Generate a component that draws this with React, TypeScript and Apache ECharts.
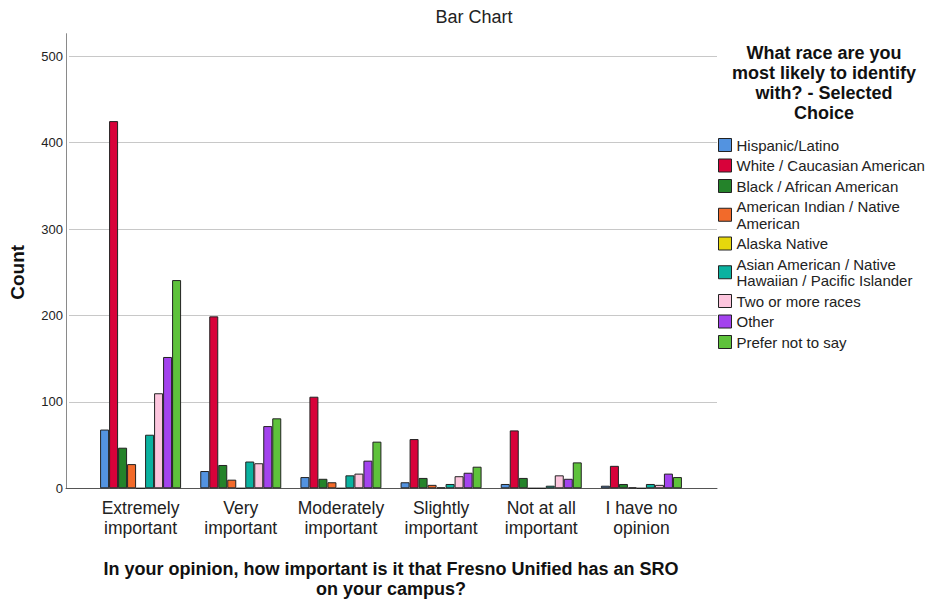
import React, { useEffect, useRef } from "react";
import * as echarts from "echarts";

const categories = [
  "Extremely\nimportant",
  "Very\nimportant",
  "Moderately\nimportant",
  "Slightly\nimportant",
  "Not at all\nimportant",
  "I have no\nopinion",
];

const seriesNames = [
  "Hispanic/Latino",
  "White / Caucasian American",
  "Black / African American",
  "American Indian / Native American",
  "Alaska Native",
  "Asian American / Native Hawaiian / Pacific Islander",
  "Two or more races",
  "Other",
  "Prefer not to say",
];

const legendLabels = [
  "Hispanic/Latino",
  "White / Caucasian American",
  "Black / African American",
  "American Indian / Native\nAmerican",
  "Alaska Native",
  "Asian American / Native\nHawaiian / Pacific Islander",
  "Two or more races",
  "Other",
  "Prefer not to say",
];

const hispanic = [68, 20, 13, 7, 5, 3];
const white = [425, 199, 106, 57, 67, 26];
const black = [47, 27, 11, 12, 12, 5];
const americanIndian = [28, 10, 7, 4, 0, 1];
const alaskaNative = [0, 0, 0, 1, 0, 0];
const asianAmerican = [62, 31, 15, 5, 3, 5];
const twoOrMore = [110, 29, 17, 14, 15, 4];
const other = [152, 72, 32, 18, 11, 17];
const preferNot = [241, 81, 54, 25, 30, 13];

const seriesValues = [
  hispanic,
  white,
  black,
  americanIndian,
  alaskaNative,
  asianAmerican,
  twoOrMore,
  other,
  preferNot,
];

const colors = [
  "#5393e0",
  "#d8023a",
  "#24832a",
  "#f26a2a",
  "#e6d70c",
  "#0ab2a0",
  "#fdc6de",
  "#a343ee",
  "#5ec23b",
];

const yTicks = { min: 0, max: 500, interval: 100 };
const yAxisTop = 526;

const FONT = "'Liberation Sans', Arial, sans-serif";

export default function App() {
  const ref = useRef<HTMLDivElement>(null);

  useEffect(() => {
    if (!ref.current) return;
    const chart = echarts.init(ref.current, null, { renderer: "svg" });

    const plotLeft = 66;
    const plotRight = 717;
    const baseY = 488.3;
    const y500 = 56.3;
    const topY = 33.7;
    const barLeft = 90.5;
    const barRight = 691.5;

    const option: any = {
      animation: false,
      backgroundColor: "#ffffff",
      textStyle: { fontFamily: FONT },
      grid: [
        { left: plotLeft, top: topY, width: plotRight - plotLeft, height: baseY - topY },
        { left: plotLeft, top: y500, width: plotRight - plotLeft, height: baseY - y500 },
        { left: barLeft, top: y500, width: barRight - barLeft, height: baseY - y500 },
      ],
      xAxis: [
        {
          gridIndex: 0,
          type: "value",
          min: 0,
          max: 1,
          axisLine: { show: true, lineStyle: { color: "#555555", width: 1 } },
          axisTick: { show: false },
          axisLabel: { show: false },
          splitLine: { show: false },
        },
        {
          gridIndex: 1,
          type: "value",
          min: 0,
          max: 1,
          show: false,
        },
        {
          gridIndex: 2,
          type: "category",
          data: categories,
          axisLine: { show: false },
          axisTick: { show: false },
          splitLine: { show: false },
          axisLabel: {
            color: "#222222",
            fontSize: 17.5,
            lineHeight: 19.5,
            margin: 10,
            interval: 0,
            fontFamily: FONT,
          },
          name: "In your opinion, how important is it that Fresno Unified has an SRO\non your campus?",
          nameLocation: "middle",
          nameGap: 70,
          nameTextStyle: {
            color: "#111111",
            fontSize: 18,
            fontWeight: "bold",
            lineHeight: 20.5,
            fontFamily: FONT,
          },
        },
      ],
      yAxis: [
        {
          gridIndex: 0,
          type: "value",
          min: 0,
          max: yAxisTop,
          axisLine: { show: true, lineStyle: { color: "#8a8a8a", width: 1 } },
          axisTick: { show: false },
          axisLabel: { show: false },
          splitLine: { show: false },
        },
        {
          gridIndex: 1,
          type: "value",
          min: yTicks.min,
          max: yTicks.max,
          interval: yTicks.interval,
          axisLine: { show: false },
          axisTick: { show: false },
          axisLabel: { color: "#222222", fontSize: 13, margin: 6, fontFamily: FONT },
          splitLine: { show: true, lineStyle: { color: "#c8c8c8", width: 1 } },
          name: "Count",
          nameLocation: "middle",
          nameGap: 42,
          nameTextStyle: {
            color: "#111111",
            fontSize: 19,
            fontWeight: "bold",
            fontFamily: FONT,
          },
        },
        {
          gridIndex: 2,
          type: "value",
          min: yTicks.min,
          max: yTicks.max,
          show: false,
        },
      ],
      legend: {
        orient: "vertical",
        left: 718,
        top: 136.75,
        padding: 0,
        itemWidth: 13,
        itemHeight: 13,
        itemGap: 4,
        icon: "rect",
        data: seriesNames,
        formatter: (name: string) => legendLabels[seriesNames.indexOf(name)],
        itemStyle: { borderColor: "#222222", borderWidth: 1 },
        textStyle: {
          color: "#222222",
          fontSize: 15,
          lineHeight: 16.5,
          fontFamily: FONT,
        },
      },
      graphic: [
        {
          type: "text",
          x: 474,
          y: 17,
          style: {
            text: "Bar Chart",
            align: "center",
            verticalAlign: "middle",
            fill: "#222222",
            font: `18px ${FONT}`,
          },
        },
        {
          type: "text",
          x: 824,
          y: 42.7,
          style: {
            text: "What race are you\nmost likely to identify\nwith? - Selected\nChoice",
            align: "center",
            verticalAlign: "top",
            lineHeight: 20,
            fill: "#111111",
            font: `bold 18px ${FONT}`,
          },
        },
      ],
      series: seriesNames.map((name, i) => ({
        name,
        type: "bar",
        xAxisIndex: 2,
        yAxisIndex: 2,
        data: seriesValues[i],
        barWidth: 9,
        barGap: "0%",
        itemStyle: { color: colors[i], borderColor: "#222222", borderWidth: 1 },
        emphasis: { disabled: true },
      })),
    };

    chart.setOption(option);
    return () => {
      chart.dispose();
    };
  }, []);

  return (
    <div
      ref={ref}
      style={{ position: "fixed", left: 0, top: 0, width: 931, height: 613, background: "#ffffff" }}
    />
  );
}
